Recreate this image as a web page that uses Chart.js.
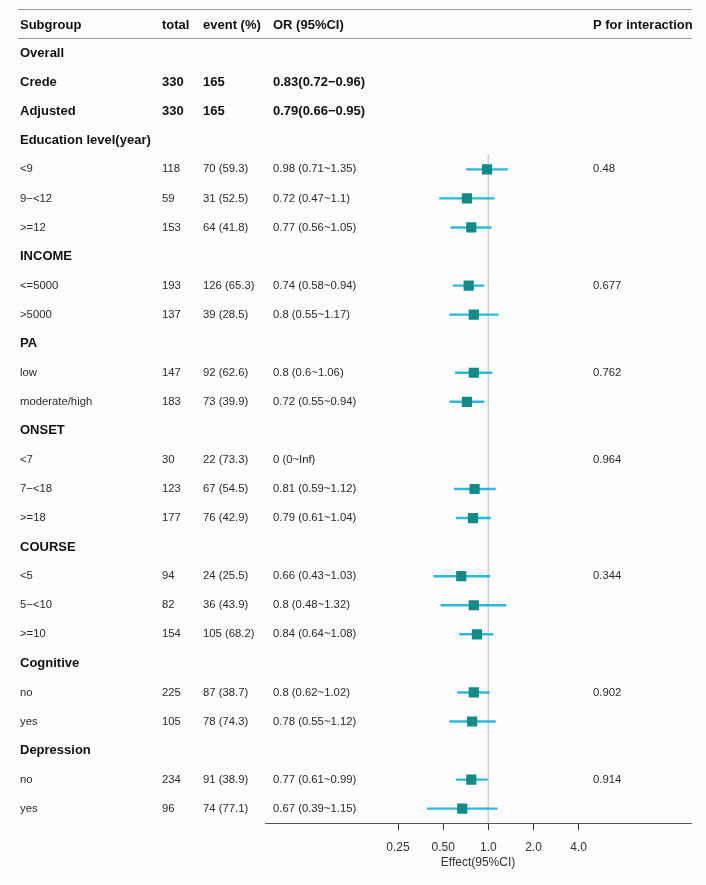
<!DOCTYPE html>
<html>
<head>
<meta charset="utf-8">
<script src="https://cdn.jsdelivr.net/npm/chart.js@4"></script>
<style>
  html, body { margin: 0; padding: 0; background: #fcfcfc; }
  #wrap { width: 706px; height: 885px; position: relative; }
</style>
</head>
<body>
<div id="wrap"><canvas id="forest"></canvas></div>
<script>
// table rows (row 0 is the header, drawn separately)
const subgroups = ['Overall', 'Crede', 'Adjusted', 'Education level(year)', '<9', '9\u2212<12', '>=12',
  'INCOME', '<=5000', '>5000', 'PA', 'low', 'moderate/high', 'ONSET', '<7', '7\u2212<18', '>=18',
  'COURSE', '<5', '5\u2212<10', '>=10', 'Cognitive', 'no', 'yes', 'Depression', 'no', 'yes'];
const boldRows = [1, 2, 3, 4, 8, 11, 14, 18, 22, 25];
const totals = ['', '330', '330', '', '118', '59', '153', '', '193', '137', '', '147', '183', '',
  '30', '123', '177', '', '94', '82', '154', '', '225', '105', '', '234', '96'];
const events = ['', '165', '165', '', '70 (59.3)', '31 (52.5)', '64 (41.8)', '', '126 (65.3)', '39 (28.5)', '',
  '92 (62.6)', '73 (39.9)', '', '22 (73.3)', '67 (54.5)', '76 (42.9)', '', '24 (25.5)', '36 (43.9)', '105 (68.2)', '',
  '87 (38.7)', '78 (74.3)', '', '91 (38.9)', '74 (77.1)'];
const orText = ['', '0.83(0.72\u22120.96)', '0.79(0.66\u22120.95)', '', '0.98 (0.71~1.35)', '0.72 (0.47~1.1)',
  '0.77 (0.56~1.05)', '', '0.74 (0.58~0.94)', '0.8 (0.55~1.17)', '', '0.8 (0.6~1.06)', '0.72 (0.55~0.94)', '',
  '0 (0~Inf)', '0.81 (0.59~1.12)', '0.79 (0.61~1.04)', '', '0.66 (0.43~1.03)', '0.8 (0.48~1.32)', '0.84 (0.64~1.08)', '',
  '0.8 (0.62~1.02)', '0.78 (0.55~1.12)', '', '0.77 (0.61~0.99)', '0.67 (0.39~1.15)'];
const pInter = ['', '', '', '', '0.48', '', '', '', '0.677', '', '', '0.762', '', '', '0.964', '', '', '',
  '0.344', '', '', '', '0.902', '', '', '0.914', ''];

// plotted estimates (null = no mark)
const orVal = [null, null, null, null, 0.98, 0.72, 0.77, null, 0.74, 0.8, null, 0.8, 0.72, null,
  null, 0.81, 0.79, null, 0.66, 0.8, 0.84, null, 0.8, 0.78, null, 0.77, 0.67];
const ciLow = [null, null, null, null, 0.71, 0.47, 0.56, null, 0.58, 0.55, null, 0.6, 0.55, null,
  null, 0.59, 0.61, null, 0.43, 0.48, 0.64, null, 0.62, 0.55, null, 0.61, 0.39];
const ciHigh = [null, null, null, null, 1.35, 1.1, 1.05, null, 0.94, 1.17, null, 1.06, 0.94, null,
  null, 1.12, 1.04, null, 1.03, 1.32, 1.08, null, 1.02, 1.12, null, 0.99, 1.15];

const xTicks = [0.25, 0.5, 1, 2, 4];
const xTickLabels = ['0.25', '0.50', '1.0', '2.0', '4.0'];
const headers = ['Subgroup', 'total', 'event (%)', 'OR (95%CI)', 'P for interaction'];

const FONT = '"Liberation Sans", Arial, sans-serif';

const squares = [], ciSegs = [];
orVal.forEach((v, i) => {
  const row = i + 1;
  if (v !== null) squares.push({ x: v, y: row });
  if (ciLow[i] !== null) {
    ciSegs.push({ x: ciLow[i], y: row }, { x: ciHigh[i], y: row }, { x: ciHigh[i], y: null });
  }
});

const tablePlugin = {
  id: 'tableText',
  afterDraw(chart) {
    const ctx = chart.ctx;
    const y = chart.scales.y;
    const cols = [20, 162, 203, 273, 593];
    ctx.save();
    // header rules
    ctx.strokeStyle = '#9a9a9a';
    ctx.lineWidth = 1.2;
    ctx.beginPath();
    ctx.moveTo(18, 9.5); ctx.lineTo(692, 9.5);
    ctx.moveTo(18, 38.5); ctx.lineTo(692, 38.5);
    ctx.stroke();

    ctx.textBaseline = 'middle';
    ctx.fillStyle = '#111';
    ctx.font = 'bold 13px ' + FONT;
    headers.forEach((h, c) => ctx.fillText(h, cols[c], y.getPixelForValue(0) + 1));

    subgroups.forEach((s, i) => {
      const row = i + 1;
      const py = y.getPixelForValue(row);
      const bold = boldRows.includes(row);
      ctx.font = (bold ? 'bold 13px ' : '11.3px ') + FONT;
      ctx.fillStyle = bold ? '#111' : '#2a2a2a';
      ctx.fillText(s, cols[0], py);
      ctx.fillText(totals[i], cols[1], py);
      ctx.fillText(events[i], cols[2], py);
      ctx.fillText(orText[i], cols[3], py);
      ctx.font = '11.3px ' + FONT;
      ctx.fillText(pInter[i], cols[4], py);
    });
    ctx.restore();
  }
};

new Chart(document.getElementById('forest'), {
  type: 'scatter',
  data: {
    datasets: [
      {
        label: 'OR',
        data: squares,
        pointStyle: 'rect',
        pointRadius: 7.2,
        backgroundColor: '#138a86',
        borderWidth: 0,
        order: 0
      },
      {
        label: '95%CI',
        data: ciSegs,
        showLine: true,
        spanGaps: false,
        borderColor: '#2cb8dc',
        borderWidth: 2.4,
        pointRadius: 0,
        order: 1
      },
      {
        label: 'ref',
        data: [{ x: 1, y: 4.5 }, { x: 1, y: 27.5 }],
        showLine: true,
        borderColor: '#cfcfcf',
        borderWidth: 1.5,
        pointRadius: 0,
        order: 2
      }
    ]
  },
  options: {
    responsive: true,
    maintainAspectRatio: false,
    animation: false,
    layout: { padding: { left: 265, right: 15, top: 9.5, bottom: 15 } },
    plugins: { legend: { display: false }, tooltip: { enabled: false } },
    scales: {
      x: {
        type: 'logarithmic',
        min: 0.03245,
        max: 22.45,
        bounds: 'data',
        afterBuildTicks: (scale) => { scale.ticks = xTicks.map(v => ({ value: v })); },
        grid: { drawOnChartArea: false, drawTicks: true, tickLength: 7, color: '#333' },
        border: { display: true, color: '#555', width: 1 },
        ticks: {
          padding: 10,
          color: '#333',
          font: { family: FONT, size: 12 },
          autoSkip: false,
          maxRotation: 0,
          callback: (v, i) => xTickLabels[i]
        },
        title: {
          display: true,
          text: 'Effect(95%CI)',
          color: '#333',
          font: { family: FONT, size: 12 },
          padding: { top: -9, bottom: 0 }
        }
      },
      y: {
        type: 'linear',
        min: -0.5,
        max: 27.5,
        reverse: true,
        display: false
      }
    }
  },
  plugins: [tablePlugin]
});
</script>
</body>
</html>
